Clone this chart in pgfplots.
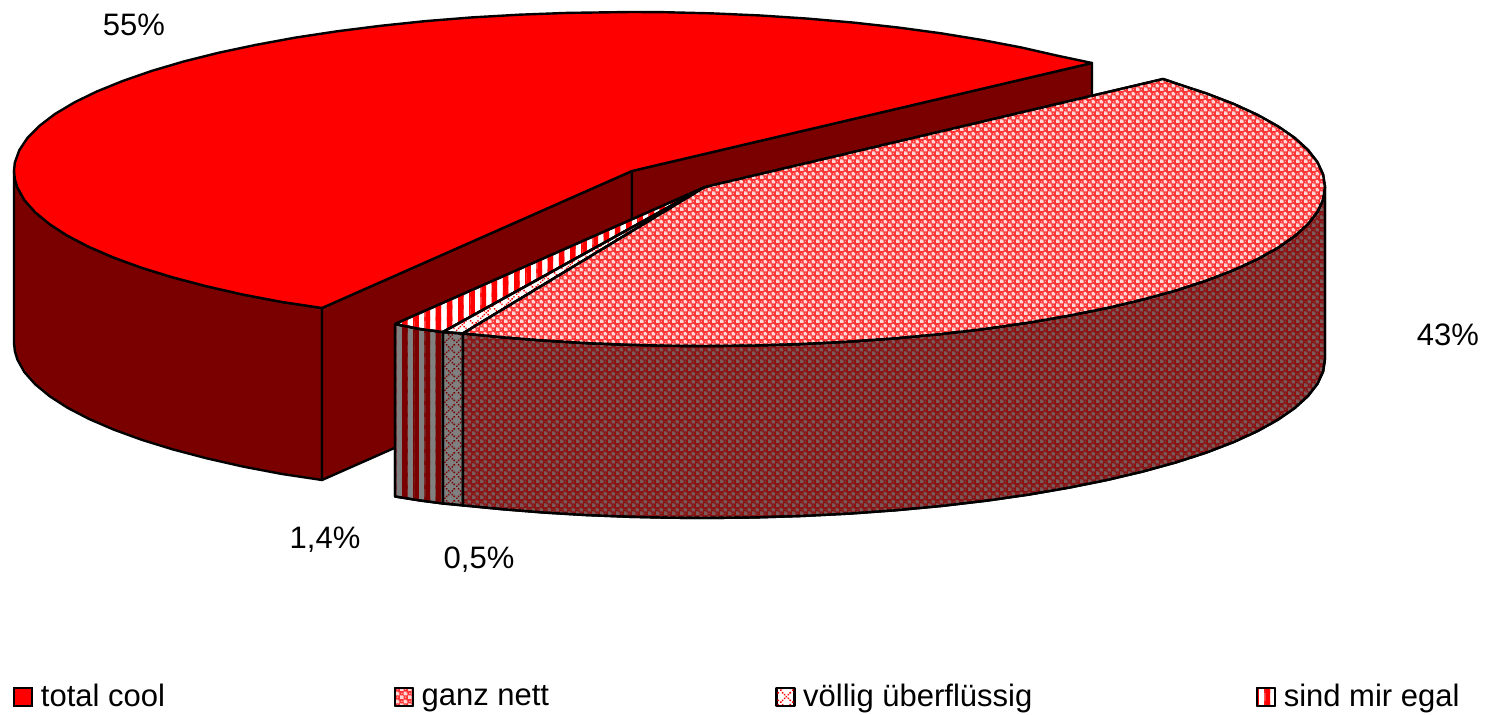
\documentclass[border=0pt]{standalone}
\usepackage{fontspec}
\setmainfont{Liberation Sans}
\usepackage{pgfplots}
\pgfplotsset{compat=1.18}
\usetikzlibrary{patterns}
\definecolor{topred}{HTML}{FF0000}
\definecolor{sidered}{HTML}{7A0000}
\definecolor{sidegray}{HTML}{808080}
\definecolor{softred}{HTML}{FF3434}
\definecolor{softwhite}{HTML}{FFD8D8}
\definecolor{softdark}{HTML}{8A1414}
\definecolor{softgray}{HTML}{7A5A5A}

% 1 px of the reference = 0.5pt
\pgfdeclarepatternformonly{cooltile}{\pgfqpoint{0pt}{0pt}}{\pgfqpoint{4pt}{4pt}}{\pgfqpoint{4pt}{4pt}}{%
  \pgfpathrectangle{\pgfqpoint{0pt}{0pt}}{\pgfqpoint{2pt}{1.5pt}}
  \pgfpathrectangle{\pgfqpoint{0pt}{1.5pt}}{\pgfqpoint{1.5pt}{0.5pt}}
  \pgfpathrectangle{\pgfqpoint{2pt}{2pt}}{\pgfqpoint{2pt}{1.5pt}}
  \pgfpathrectangle{\pgfqpoint{2pt}{3.5pt}}{\pgfqpoint{1.5pt}{0.5pt}}
  \pgfpathrectangle{\pgfqpoint{2.75pt}{0.75pt}}{\pgfqpoint{0.5pt}{0.5pt}}
  \pgfpathrectangle{\pgfqpoint{0.75pt}{2.75pt}}{\pgfqpoint{0.5pt}{0.5pt}}
  \pgfusepath{fill}}
\pgfdeclarepatternformonly{crosstile}{\pgfqpoint{0pt}{0pt}}{\pgfqpoint{6pt}{6pt}}{\pgfqpoint{6pt}{6pt}}{%
  \pgfpathrectangle{\pgfqpoint{0pt}{0pt}}{\pgfqpoint{0.8pt}{0.8pt}}
  \pgfpathrectangle{\pgfqpoint{1pt}{1pt}}{\pgfqpoint{0.8pt}{0.8pt}}
  \pgfpathrectangle{\pgfqpoint{2pt}{2pt}}{\pgfqpoint{0.8pt}{0.8pt}}
  \pgfpathrectangle{\pgfqpoint{3pt}{3pt}}{\pgfqpoint{0.8pt}{0.8pt}}
  \pgfpathrectangle{\pgfqpoint{4pt}{4pt}}{\pgfqpoint{0.8pt}{0.8pt}}
  \pgfpathrectangle{\pgfqpoint{5pt}{5pt}}{\pgfqpoint{0.8pt}{0.8pt}}
  \pgfpathrectangle{\pgfqpoint{5pt}{1pt}}{\pgfqpoint{0.8pt}{0.8pt}}
  \pgfpathrectangle{\pgfqpoint{4pt}{2pt}}{\pgfqpoint{0.8pt}{0.8pt}}
  \pgfpathrectangle{\pgfqpoint{2pt}{4pt}}{\pgfqpoint{0.8pt}{0.8pt}}
  \pgfpathrectangle{\pgfqpoint{1pt}{5pt}}{\pgfqpoint{0.8pt}{0.8pt}}
  \pgfusepath{fill}}
\pgfdeclarepatternformonly{stripetile}{\pgfqpoint{0pt}{-1pt}}{\pgfqpoint{5.6pt}{7pt}}{\pgfqpoint{5.6pt}{6pt}}{%
  \pgfpathrectangle{\pgfqpoint{0pt}{-1pt}}{\pgfqpoint{2.2pt}{8pt}}
  \pgfpathrectangle{\pgfqpoint{5pt}{-1pt}}{\pgfqpoint{0.6pt}{8pt}}
  \pgfusepath{fill}}

\tikzset{
  edge/.style={draw=black,line width=1.2pt,line join=round},
  cooltop/.style={edge,preaction={fill=softred},pattern=cooltile,pattern color=softwhite},
  coolside/.style={edge,preaction={fill=softdark},pattern=cooltile,pattern color=softgray},
  crosstop/.style={edge,preaction={fill=white},pattern=crosstile,pattern color=topred},
  crossside/.style={edge,preaction={fill=sidegray},pattern=crosstile,pattern color=sidered},
  stripetop/.style={edge,preaction={fill=white},pattern=stripetile,pattern color=topred},
  stripeside/.style={edge,preaction={fill=sidegray},pattern=stripetile,pattern color=sidered},
}

\begin{document}
\begin{tikzpicture}
\begin{axis}[
  scale only axis, width=744pt, height=357.5pt,
  xmin=0, xmax=1488, ymin=0, ymax=715, y dir=reverse,
  hide axis, clip=false,
  legend image code/.code={\draw[#1,line width=0.8pt] (0pt,-4.5pt) rectangle (9pt,4.5pt);},
  legend columns=4,
  legend style={draw=none,fill=none,at={(axis cs:13,697)},anchor=west,inner sep=0pt,
    font=\fontsize{15.5}{18}\selectfont,
    nodes={inner xsep=0pt,inner ysep=1pt},
    /tikz/every even column/.append style={column sep=0pt},
    /tikz/every odd column/.append style={column sep=4pt}},
]
\path (axis cs:0,0) (axis cs:1488,715);
% total cool: outer wall
\addplot[forget plot,edge,fill=sidered] coordinates {
  (322,308) (282,302) (243.1,294.6) (206.6,286.3) (172.8,277.4) (141.7,267.8) (113.7,257.6) (88.9,246.9)
  (67.4,235.7) (49.5,224.1) (35.1,212.2) (24.3,200) (17.4,187.6) (14.9,179.3) (14,171)
  (14,343) (14.9,351.3) (17.4,359.6) (24.3,372) (35.1,384.2) (49.5,396.1) (67.4,407.7) (88.9,418.9)
  (113.7,429.6) (141.7,439.8) (172.8,449.4) (206.6,458.3) (243.1,466.6) (282,474) (322,480) (322,308)
};
% total cool: cut faces
\addplot[forget plot,edge,fill=sidered] coordinates {(632,171) (322,308) (322,480) (632,343) (632,171)};
\addplot[forget plot,edge,fill=sidered] coordinates {(632,171) (1092,63) (1092,235) (632,343) (632,171)};
% total cool: top
\addplot[forget plot,edge,fill=topred] coordinates {
  (632,171) (322,308) (282,302) (243.1,294.6) (206.6,286.3) (172.8,277.4) (141.7,267.8) (113.7,257.6) (88.9,246.9)
  (67.4,235.7) (49.5,224.1) (35.1,212.2) (24.3,200) (17.4,187.6) (14.9,179.3) (14,171)
  (14.8,162.7) (19.3,150.2) (27.5,137.9) (39.5,125.8) (55,114) (74.2,102.5) (96.8,91.5) (122.7,81) (151.8,70.9)
  (183.7,61.5) (218.5,52.8) (255.8,44.9) (295.4,37.6) (337.1,31.3) (380.7,25.8) (425.7,21.1) (472.1,17.4)
  (519.4,14.7) (567.4,12.9) (632,12) (664.3,12.2) (712.6,13.4) (760.5,15.5) (807.5,18.6) (853.5,22.6) (898,27.5)
  (941,33.3) (982,40) (1020.9,47.4) (1057.4,55.7) (1092,63) (632,171)
};
% sind mir egal
\addplot[forget plot,stripeside] coordinates {(395,324) (420,329) (443,332) (443,503.5) (420,500.5) (395,496.5) (395,324)};
\addplot[forget plot,stripetop] coordinates {(395,324) (420,329) (443,332) (705,187) (395,324)};
% voellig ueberfluessig
\addplot[forget plot,crossside] coordinates {(443,332) (463,333.4) (463,505.4) (443,503.5) (443,332)};
\addplot[forget plot,crosstop] coordinates {(443,332) (463,333.4) (705,187) (443,332)};
% ganz nett: wall
\addplot[forget plot,coolside] coordinates {
  (463,333.4) (503.1,337.3) (544.5,340.6) (586.7,343.1) (629.4,344.8) (667.2,345.7) (705,346) (753.7,345.5) (802,344)
  (849.7,341.6) (896.6,338.2) (942.3,333.9) (986.5,328.7) (1028.9,322.6) (1069.4,315.6) (1107.6,307.9)
  (1143.4,299.4) (1176.4,290.3) (1206.6,280.5) (1233.6,270.1) (1257.4,259.2) (1277.8,247.8) (1294.7,236.1)
  (1307.9,224.1) (1317.4,211.9) (1323.1,199.5) (1325,187)
  (1325,359) (1323.1,371.5) (1317.4,383.9) (1307.9,396.1) (1294.7,408.1) (1277.8,419.8) (1257.4,431.2)
  (1233.6,442.1) (1206.6,452.5) (1176.4,462.3) (1143.4,471.4) (1107.6,479.9) (1069.4,487.6) (1028.9,494.6)
  (986.5,500.7) (942.3,505.9) (896.6,510.2) (849.7,513.6) (802,516) (753.7,517.5) (705,518) (667.2,517.7)
  (629.4,516.8) (586.7,515.1) (544.5,512.6) (503.1,509.3) (463,505.4) (463,333.4)
};
% ganz nett: top
\addplot[forget plot,cooltop] coordinates {
  (705,187) (463,333.4) (503.1,337.3) (544.5,340.6) (586.7,343.1) (629.4,344.8) (667.2,345.7) (705,346) (753.7,345.5) (802,344)
  (849.7,341.6) (896.6,338.2) (942.3,333.9) (986.5,328.7) (1028.9,322.6) (1069.4,315.6) (1107.6,307.9)
  (1143.4,299.4) (1176.4,290.3) (1206.6,280.5) (1233.6,270.1) (1257.4,259.2) (1277.8,247.8) (1294.7,236.1)
  (1307.9,224.1) (1317.4,211.9) (1323.1,199.5) (1325,187)
  (1323.1,174.5) (1317.4,162.1) (1307.9,149.9) (1294.7,137.9) (1277.8,126.2) (1257.4,114.8) (1233.6,103.9)
  (1206.6,93.5) (1186.8,87) (1163,79) (705,187)
};
\addlegendimage{draw=black,fill=topred}
\addlegendentry{\makebox[176.5pt][l]{total cool}}
\addlegendimage{cooltop}
\addlegendentry{\makebox[177pt][l]{ganz nett}}
\addlegendimage{crosstop}
\addlegendentry{\makebox[226.5pt][l]{völlig überflüssig}}
\addlegendimage{stripetop}
\addlegendentry{sind mir egal}
\node[font=\fontsize{15.5}{18}\selectfont] at (axis cs:134,25) {55\%};
\node[font=\fontsize{15.5}{18}\selectfont] at (axis cs:1448,335) {43\%};
\node[font=\fontsize{15.5}{18}\selectfont] at (axis cs:325,540) {1,4\%};
\node[font=\fontsize{15.5}{18}\selectfont] at (axis cs:479,560) {0,5\%};
\end{axis}
\end{tikzpicture}
\end{document}
